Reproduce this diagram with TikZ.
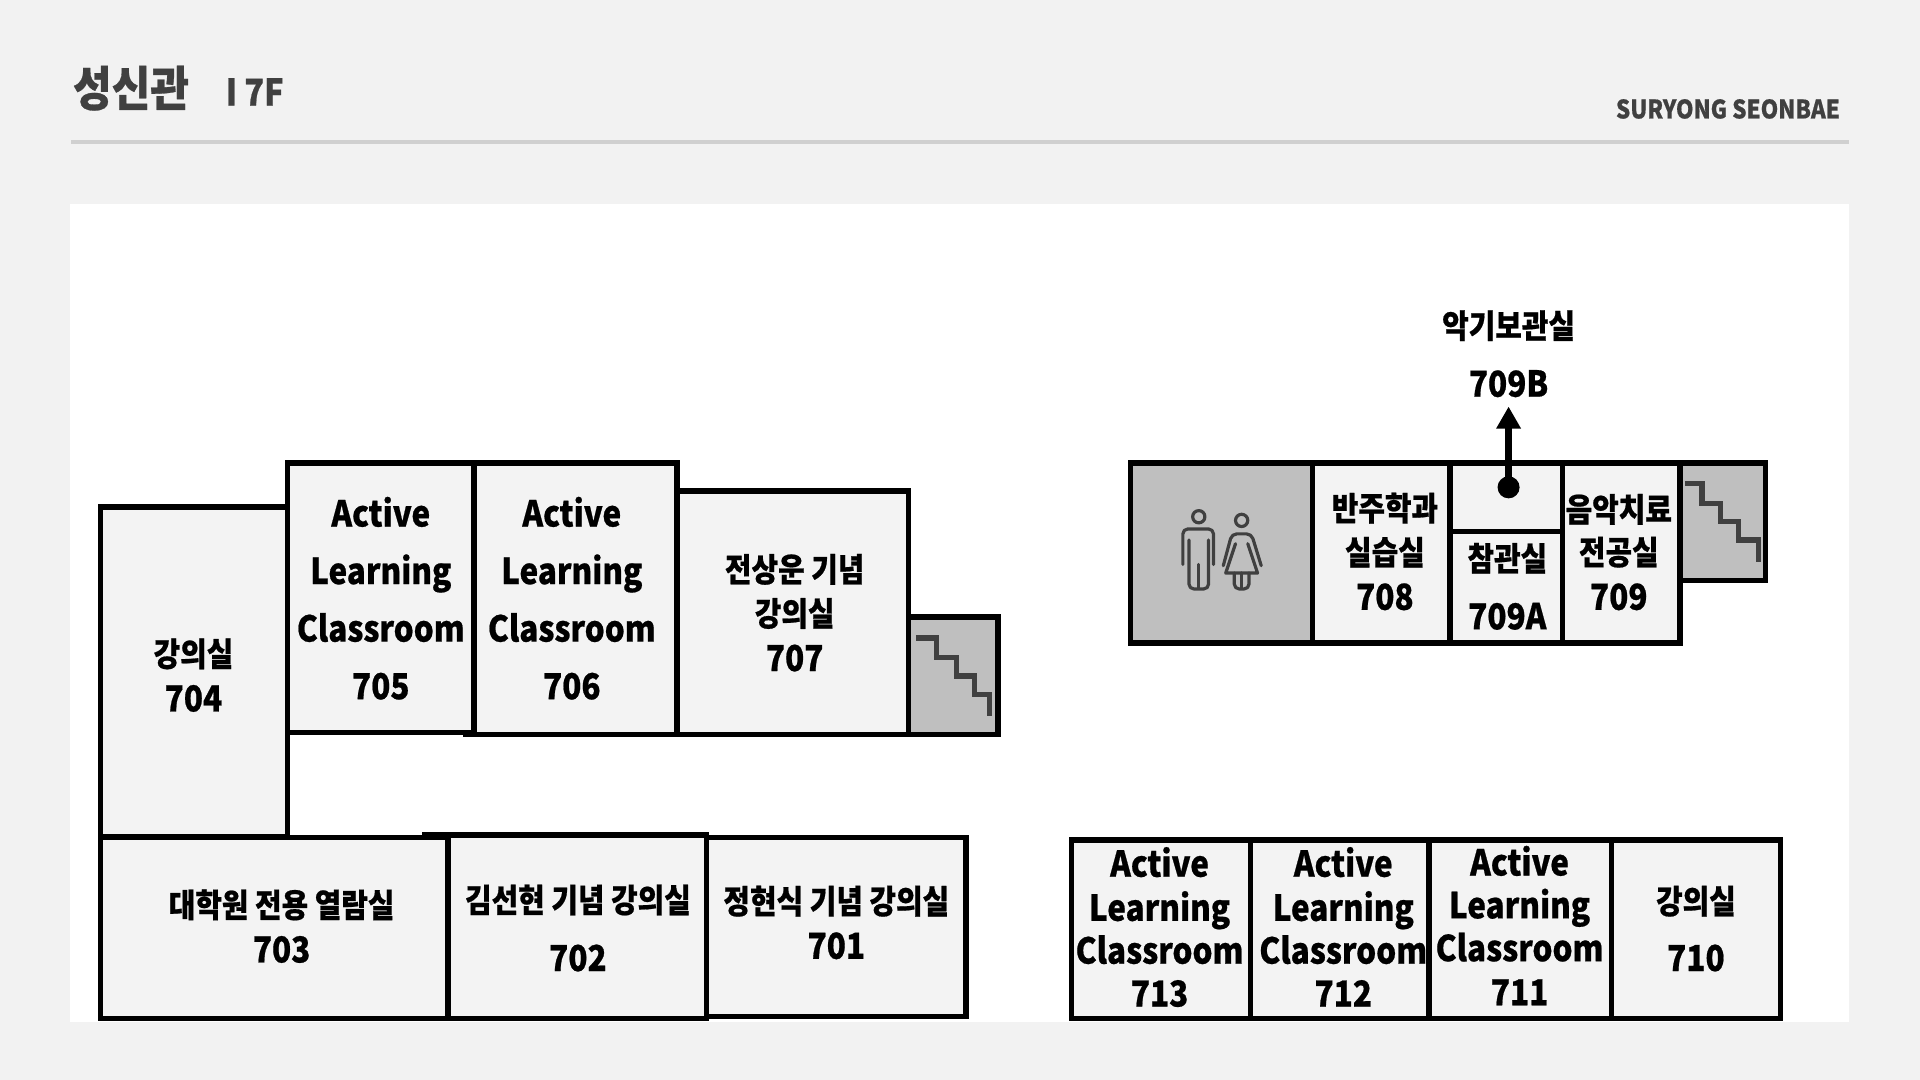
\documentclass[tikz,border=0pt]{standalone}
\usepackage{fontspec}
\usetikzlibrary{arrows.meta}
\newfontfamily\krfont[FakeStretch=0.88,FakeBold=0.6]{Noto Sans CJK KR Black}
\definecolor{pagebg}{HTML}{F2F2F2}
\definecolor{roomfill}{HTML}{F3F3F3}
\definecolor{servicefill}{HTML}{BFBFBF}
\definecolor{rulegray}{HTML}{D0D0D0}
\definecolor{inkdark}{HTML}{404040}
\tikzset{
  room/.style={draw=black,line width=2.2pt,fill=roomfill,line join=miter},
  service/.style={room,fill=servicefill},
  wall/.style={draw=black,line width=2.2pt},
  hangul/.style={font=\krfont\fontsize{13.4}{16}\selectfont,inner sep=0pt,text=black},
  latin/.style={font=\krfont\fontsize{14.6}{17}\selectfont,inner sep=0pt,text=black,text height=11pt,text depth=0pt},
  stairline/.style={draw=inkdark,line width=2.2pt,line join=miter},
  iconline/.style={draw=inkdark,line width=1.3pt,line cap=round,line join=round,rounded corners=2pt},
}
\begin{document}
\begin{tikzpicture}[x=0.5pt,y=-0.5pt]
\useasboundingbox (0,0) rectangle (1568,882);
\fill[pagebg] (0,0) rectangle (1568,882);
\fill[white] (57,167) rectangle (1510,835);
\draw[rulegray,line width=1.5pt] (58,116) -- (1510,116);
% header
\node[font=\krfont\fontsize{19.5}{22}\selectfont,text=inkdark,inner sep=0pt] (title) at (107,72) {성신관};
\node[font=\krfont\fontsize{15}{17}\selectfont,text=inkdark,inner sep=0pt] (floor) at (208,75) {I 7F};
\node[font=\krfont\fontsize{10.4}{12}\selectfont,text=inkdark,inner sep=0pt,anchor=east] (brand) at (1503,89) {SURYONG SEONBAE};
% left upper block
\draw[room] (82,414) rectangle (235,683);
\draw[room] (235,378) rectangle (387,598);
\draw[room] (387,378) rectangle (553,600);
\draw[room] (553,401) rectangle (742,600);
\draw[service] (742,504) rectangle (815,600);
\draw[wall] (378,600) -- (553,600);
% left lower block
\draw[room] (82,684) rectangle (366,832);
\draw[room] (366,682) rectangle (577,832);
\draw[room] (577,684) rectangle (789,830);
\draw[wall] (345,682) -- (577,682);
% right lower block
\draw[room] (875,686) rectangle (1021,832);
\draw[room] (1021,686) rectangle (1167,832);
\draw[room] (1167,686) rectangle (1316,832);
\draw[room] (1316,686) rectangle (1454,832);
% right upper block
\draw[service] (923,378) rectangle (1072,525);
\draw[room] (1072,378) rectangle (1184,525);
\draw[room] (1184,378) rectangle (1276,434);
\draw[room] (1184,434) rectangle (1276,525);
\draw[room] (1276,378) rectangle (1372,525);
\draw[service] (1372,378) rectangle (1442,474);
% stairs
\draw[stairline] (1376,395) -- (1390,395) -- (1390,411) -- (1405,411) -- (1405,426) -- (1420,426) -- (1420,441) -- (1436,441) -- (1436,459);
\draw[stairline] (748,521) -- (765,521) -- (765,537) -- (781,537) -- (781,552) -- (796,552) -- (796,567) -- (808,567) -- (808,585);
% restroom icon
\draw[iconline] (979,422) circle (5);
\draw[iconline] (966,461) -- (966,432) -- (991,432) -- (991,461);
\draw[iconline] (971,441) -- (971,481) -- (987,481) -- (987,441);
\draw[iconline] (979,461) -- (979,480);
\draw[iconline] (1014,425) circle (5);
\draw[iconline] (999,462) -- (1006,436) -- (1022,436) -- (1030,462);
\draw[iconline,rounded corners=0pt] (1009,444) -- (1001,468) -- (1027,468) -- (1019,444);
\draw[iconline] (1008,468) -- (1008,481) -- (1020,481) -- (1020,468);
\draw[iconline] (1014,468) -- (1014,480);
% labels
\node[hangul] (t704a) at (158,534) {강의실};
\node[latin] (t704b) at (158,570) {704};
\node[latin] (t705a) at (311,419) {Active};
\node[latin] (t705b) at (311,466) {Learning};
\node[latin] (t705c) at (311,513) {Classroom};
\node[latin] (t705d) at (311,560) {705};
\node[latin] (t706a) at (467,419) {Active};
\node[latin] (t706b) at (467,466) {Learning};
\node[latin] (t706c) at (467,513) {Classroom};
\node[latin] (t706d) at (467,560) {706};
\node[hangul] (t707a) at (649,465) {전상운 기념};
\node[hangul] (t707b) at (649,501) {강의실};
\node[latin] (t707c) at (649,537) {707};
\node[hangul] (t703a) at (230,739) {대학원 전용 열람실};
\node[latin] (t703b) at (230,775) {703};
\node[hangul] (t702a) at (472,735) {김선현 기념 강의실};
\node[latin] (t702b) at (472,782) {702};
\node[hangul] (t701a) at (683,736) {정현식 기념 강의실};
\node[latin] (t701b) at (683,772) {701};
\node[latin] (t713a) at (947,705) {Active};
\node[latin] (t713b) at (947,741) {Learning};
\node[latin] (t713c) at (947,776) {Classroom};
\node[latin] (t713d) at (947,811) {713};
\node[latin] (t712a) at (1097,705) {Active};
\node[latin] (t712b) at (1097,741) {Learning};
\node[latin] (t712c) at (1097,776) {Classroom};
\node[latin] (t712d) at (1097,811) {712};
\node[latin] (t711a) at (1241,704) {Active};
\node[latin] (t711b) at (1241,739) {Learning};
\node[latin] (t711c) at (1241,774) {Classroom};
\node[latin] (t711d) at (1241,810) {711};
\node[hangul] (t710a) at (1385,736) {강의실};
\node[latin] (t710b) at (1385,782) {710};
\node[hangul] (t708a) at (1131,415) {반주학과};
\node[hangul] (t708b) at (1131,451) {실습실};
\node[latin] (t708c) at (1131,487) {708};
\node[hangul] (t709aa) at (1231,456) {참관실};
\node[latin] (t709ab) at (1231,503) {709A};
\node[hangul] (t709a) at (1322,416) {음악치료};
\node[hangul] (t709b) at (1322,451) {전공실};
\node[latin] (t709c) at (1322,487) {709};
\node[hangul] (tbta) at (1232,266) {악기보관실};
\node[latin] (tbtb) at (1232,313) {709B};
% arrow to 709B
\node[circle,fill=black,inner sep=0pt,minimum size=9pt] (dot) at (1232,398) {};
\coordinate (tip) at (1232,332);
\draw[line width=2.6pt,-{Triangle[length=9pt,width=9.5pt]}] (dot.center) -- (tip);
\end{tikzpicture}
\end{document}
